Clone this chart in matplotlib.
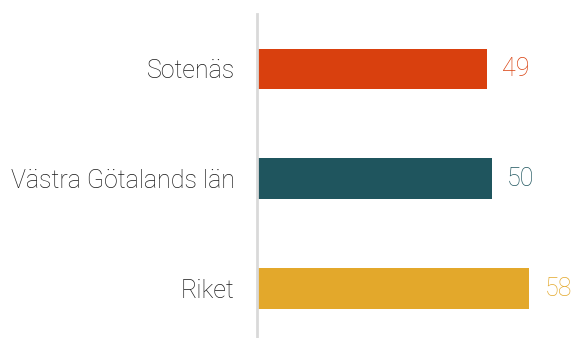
import matplotlib
matplotlib.use('Agg')
import matplotlib.pyplot as plt

categories = ['Sotenäs', 'Västra Götalands län', 'Riket']
values = [49, 50, 58]
colors = ['#D9400E', '#1F555E', '#E3A82B']

plt.rcParams['font.family'] = ['Roboto', 'DejaVu Sans']

fig = plt.figure(figsize=(5.74, 3.38), dpi=100)
ax = fig.add_axes([257 / 574, 0, 1 - 257 / 574, 1 - 14 / 338])

pos = range(len(categories))
ax.barh(pos, values, height=0.37, color=colors)
for p, v, c in zip(pos, values, colors):
    ax.text(v + 3.2, p, str(v), va='center', ha='left', color=c,
            fontsize=18, fontweight='light')

ax.set_xlim(0, 67.5)
ax.set_ylim(2.45, -0.5)
ax.set_yticks(list(pos))
ax.set_yticklabels(categories, fontsize=18, fontweight='light', color='#1a1a1a')
ax.tick_params(axis='y', length=0, pad=16)
ax.set_xticks([])
for s in ['top', 'right', 'bottom']:
    ax.spines[s].set_visible(False)
ax.spines['left'].set_color('#d9d9d9')
ax.spines['left'].set_linewidth(2)

fig.savefig('out.png', dpi=100)
